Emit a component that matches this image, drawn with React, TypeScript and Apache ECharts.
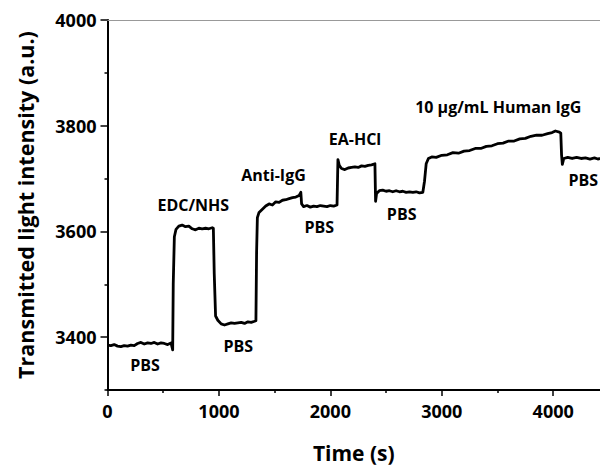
import React, { useEffect, useRef } from "react";
import * as echarts from "echarts";

// Time (s) of each sampled point of the trace
const timeS: number[] = [
  0, 30, 60, 90, 120, 150, 180, 210, 240, 270, 300, 330, 360, 390, 420, 450, 480, 510, 540, 570, 585,
  590, 600, 615, 640, 670, 700, 730, 760, 790, 820, 850, 880, 910, 940, 950,
  958, 970, 990, 1020, 1050, 1080, 1110, 1140, 1170, 1200, 1230, 1260, 1290, 1320, 1332,
  1338, 1345, 1360, 1390, 1420, 1450, 1480, 1510, 1540, 1570, 1600, 1630, 1660, 1690, 1720, 1735,
  1742, 1760, 1790, 1820, 1850, 1880, 1910, 1940, 1970, 2000, 2030, 2060,
  2068, 2080, 2100, 2130, 2160, 2190, 2220, 2250, 2280, 2310, 2340, 2370, 2400,
  2406, 2415, 2440, 2470, 2500, 2530, 2560, 2590, 2620, 2650, 2680, 2710, 2740, 2770, 2800, 2830,
  2845, 2860, 2880, 2910, 2950, 3000, 3050, 3100, 3150, 3200, 3250, 3300, 3350, 3400, 3450, 3500,
  3550, 3600, 3650, 3700, 3750, 3800, 3850, 3900, 3950, 3990, 4020, 4055, 4068,
  4075, 4082, 4095, 4130, 4170, 4210, 4250, 4290, 4330, 4370, 4400, 4420,
];

// Transmitted light intensity (a.u.) at each time
const intensity: number[] = [
  3385, 3384, 3386, 3383, 3382, 3384, 3383, 3385, 3384, 3388, 3390, 3387, 3389, 3388, 3390, 3387, 3389, 3388, 3386, 3389, 3376,
  3500, 3590, 3604, 3610, 3612, 3609, 3610, 3605, 3603, 3606, 3605, 3606, 3605, 3607, 3606,
  3520, 3440, 3432, 3425, 3423, 3425, 3427, 3426, 3427, 3428, 3426, 3429, 3428, 3430, 3431,
  3560, 3626, 3636, 3642, 3648, 3652, 3650, 3656, 3655, 3659, 3660, 3662, 3664, 3665, 3668, 3674,
  3652, 3647, 3649, 3646, 3648, 3647, 3649, 3648, 3647, 3649, 3648, 3650,
  3736, 3725, 3719, 3717, 3720, 3721, 3722, 3721, 3724, 3723, 3725, 3726, 3728,
  3657, 3672, 3677, 3678, 3676, 3677, 3675, 3677, 3675, 3676, 3674, 3675, 3674, 3675, 3673, 3674,
  3695, 3728, 3738, 3741, 3740, 3744, 3745, 3749, 3748, 3752, 3753, 3757, 3757, 3761, 3762, 3766,
  3767, 3771, 3771, 3775, 3776, 3780, 3782, 3782, 3785, 3787, 3790, 3788, 3786,
  3745, 3727, 3738, 3740, 3738, 3740, 3738, 3739, 3737, 3739, 3737, 3738,
];

// Step annotations: text, time (s), intensity (a.u.)
const stepLabels: string[] = ["PBS", "EDC/NHS", "PBS", "Anti-IgG", "PBS", "EA-HCl", "PBS", "10 μg/mL Human IgG", "PBS"];
const stepLabelTime: number[] = [336, 770, 1174, 1490, 1901, 2221, 2640, 3507, 4270];
const stepLabelValue: number[] = [3347, 3650, 3384, 3706, 3608, 3774, 3633, 3835, 3697];

const xMajorTicks: number[] = [0, 1000, 2000, 3000, 4000];
const xMinorTicks: number[] = [500, 1500, 2500, 3500];
const yMajorTicks: number[] = [3400, 3600, 3800, 4000];
const yMinorTicks: number[] = [3300, 3500, 3700, 3900];

const X_MIN = 0;
const X_MAX = 4420;
const Y_MIN = 3300;
const Y_MAX = 4000;

const FONT = "Open Sans";

export default function App() {
  const ref = useRef<HTMLDivElement>(null);

  useEffect(() => {
    document.body.style.margin = "0";
    if (!ref.current) return;
    const chart = echarts.init(ref.current, null, { renderer: "svg" });

    const traceData = timeS.map((t, i) => [t, intensity[i]]);
    const labelData = stepLabels.map((name, i) => ({
      name,
      value: [stepLabelTime[i], stepLabelValue[i]],
    }));

    const hidden = { show: false };
    const plain = (v: number) => String(v);

    chart.setOption({
      animation: false,
      backgroundColor: "#ffffff",
      grid: { left: 107.5, right: 0, top: 20, bottom: 75, containLabel: false },
      xAxis: [
        {
          type: "value",
          min: X_MIN,
          max: X_MAX,
          position: "bottom",
          axisLine: { show: true, onZero: false, lineStyle: { color: "#000", width: 2 } },
          axisTick: { show: true, length: 6, customValues: xMajorTicks, lineStyle: { color: "#000", width: 1.5 } },
          axisLabel: {
            show: true,
            customValues: xMajorTicks,
            formatter: plain,
            margin: 12,
            color: "#000",
            fontFamily: FONT,
            fontWeight: "bold",
            fontSize: 18,
          },
          splitLine: hidden,
          name: "Time (s)",
          nameLocation: "middle",
          nameGap: 52,
          nameTextStyle: { color: "#000", fontFamily: FONT, fontWeight: "bold", fontSize: 21 },
        },
        {
          type: "value",
          min: X_MIN,
          max: X_MAX,
          position: "bottom",
          axisLine: { show: false, onZero: false },
          axisTick: { show: true, length: 3, customValues: xMinorTicks, lineStyle: { color: "#000", width: 1.5 } },
          axisLabel: hidden,
          splitLine: hidden,
        },
        {
          type: "value",
          min: X_MIN,
          max: X_MAX,
          position: "top",
          axisLine: { show: true, onZero: false, lineStyle: { color: "#999", width: 1 } },
          axisTick: hidden,
          axisLabel: hidden,
          splitLine: hidden,
        },
      ],
      yAxis: [
        {
          type: "value",
          min: Y_MIN,
          max: Y_MAX,
          position: "left",
          axisLine: { show: true, onZero: false, lineStyle: { color: "#000", width: 2 } },
          axisTick: { show: true, length: 7, customValues: yMajorTicks, lineStyle: { color: "#000", width: 1.5 } },
          axisLabel: {
            show: true,
            customValues: yMajorTicks,
            formatter: plain,
            margin: 11,
            color: "#000",
            fontFamily: FONT,
            fontWeight: "bold",
            fontSize: 18,
          },
          splitLine: hidden,
          name: "Transmitted light intensity (a.u.)",
          nameLocation: "middle",
          nameGap: 71,
          nameTextStyle: { color: "#000", fontFamily: FONT, fontWeight: "bold", fontSize: 21.5 },
        },
        {
          type: "value",
          min: Y_MIN,
          max: Y_MAX,
          position: "left",
          axisLine: { show: false, onZero: false },
          axisTick: { show: true, length: 3, customValues: yMinorTicks, lineStyle: { color: "#000", width: 1.5 } },
          axisLabel: hidden,
          splitLine: hidden,
        },
      ],
      series: [
        {
          type: "line",
          xAxisIndex: 0,
          yAxisIndex: 0,
          data: traceData,
          showSymbol: false,
          symbol: "none",
          lineStyle: { color: "#000", width: 2.8, join: "round" },
          silent: true,
        },
        {
          type: "scatter",
          xAxisIndex: 0,
          yAxisIndex: 0,
          data: labelData,
          symbolSize: 1,
          itemStyle: { color: "transparent" },
          silent: true,
          label: {
            show: true,
            position: "inside",
            formatter: "{b}",
            color: "#000",
            opacity: 1,
            textBorderWidth: 0,
            fontFamily: FONT,
            fontWeight: "bold",
            fontSize: 16,
          },
        },
      ],
    });

    return () => {
      chart.dispose();
    };
  }, []);

  return <div ref={ref} style={{ width: 600, height: 468 }} />;
}
